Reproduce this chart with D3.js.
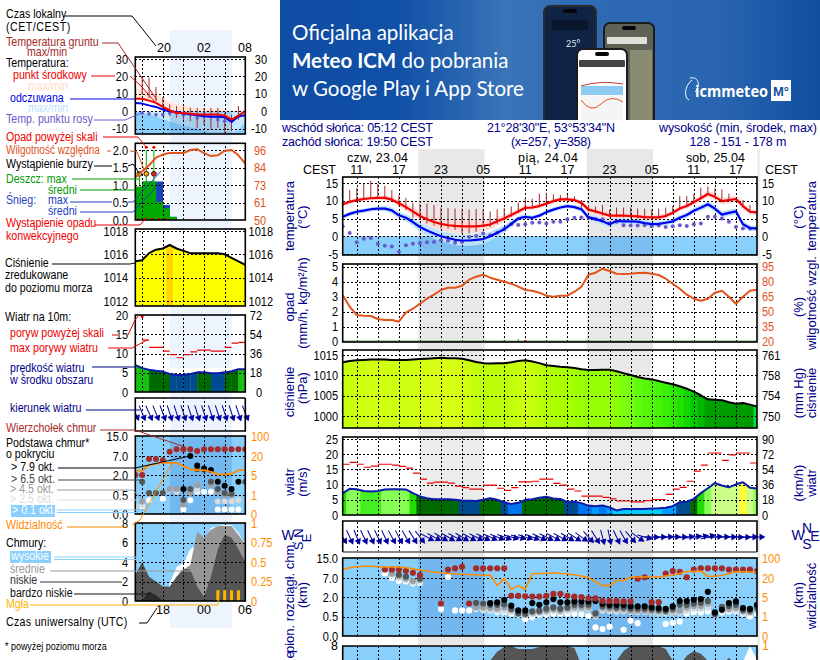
<!DOCTYPE html>
<html>
<head>
<meta charset="utf-8">
<title>Meteogram</title>
<script src="https://cdn.jsdelivr.net/npm/d3@7"></script>
<style>
html, body { margin: 0; padding: 0; background: #fff; }
svg { display: block; }
text { font-family: "Liberation Sans", Arial, sans-serif; font-size: 12px; }
</style>
</head>
<body>
<svg id="chart" width="820" height="660"></svg>
<script>
// --- dane: panel glowny, godziny 9..68 liczone od 23.04 00:00 CEST
const hours = d3.range(9, 69);
const hourLabels = ['11', '17', '23', '05', '11', '17', '23', '05', '11', '17'];
const hourTicks = [11, 17, 23, 29, 35, 41, 47, 53, 59, 65];
const gridHours = d3.range(11, 68, 3);
const nights = [[19.75, 29.2], [43.75, 53.2]];
const dayLabels = ['czw, 23.04', 'pią, 24.04', 'sob, 25.04'];

const tempCenter = [9, 9.7, 10.2, 10.5, 10.7, 10.8, 10.8, 10.3, 9.3, 8.2,
  7, 5.7, 4.8, 4, 3.5, 3.1, 2.9, 2.8, 2.8, 2.8,
  3, 3.3, 4.2, 5, 6, 7, 8, 8.1, 8.5, 9.2,
  9.9, 10.4, 10.4, 10.2, 9.4, 7.5, 7, 6.4, 5.8, 5.8,
  5.8, 5.7, 5.6, 5.4, 5.3, 5.3, 5.7, 6.6, 7.8, 8.5,
  9.6, 10.7, 11.9, 11.1, 9.9, 10.2, 10.5, 8.5, 6.9, 6.7];
const tempFelt = [5.5, 6.3, 6.9, 7.2, 7.6, 7.8, 7.8, 7.3, 5.9, 5.2,
  4, 2.6, 1.6, 0.8, 0, -0.5, -1, -1.2, -1.2, -1,
  -0.8, 0, 1, 2, 3.5, 5, 5.5, 5.2, 5.8, 6.8,
  7.5, 8.1, 8.5, 8.2, 7.6, 5.3, 4.9, 4.2, 3.4, 4.3,
  4.2, 4.2, 4.1, 3.7, 3.4, 3.5, 3.8, 4.2, 5.2, 6,
  7.2, 8, 9, 7.8, 6.1, 6.6, 7, 3.4, 2.3, 2.2];
const tempSpread = [0.6, 0.6, 0.6, 0.6, 0.6, 0.6, 0.7, 0.8, 0.9, 1,
  1.1, 1.2, 1.3, 1.4, 1.4, 1.5, 1.5, 1.5, 1.5, 1.5,
  1.4, 1.3, 1.2, 1, 0.9, 0.8, 0.7, 0.6, 0.6, 0.6,
  0.6, 0.6, 0.6, 0.6, 0.7, 0.8, 0.9, 0.9, 0.9, 0.9,
  0.8, 0.8, 0.8, 0.8, 0.8, 0.8, 0.7, 0.7, 0.7, 0.7,
  0.8, 0.8, 0.9, 0.9, 0.9, 0.9, 0.9, 0.9, 0.8, 0.7];
const groundMax = [null, 13, 13.6, 14.8, 15.6, 14.8, 14.2, 13, 11.6, 10.8,
  9.4, 9.1, 9.2, 8.8, 8.1, 7.9, 7.8, 7.8, 7.5, 7.7,
  7.7, 7, 7.6, 7.9, 8.4, 9.5, 10.8, 10.6, 12, 12.2,
  11.8, 11.6, 11.6, 11.3, 10.2, 8.8, 8.3, 8.8, 7.4, 8.1,
  8.1, 8.1, 7.8, 7.8, 7.5, 7.8, 8.1, 8.5, 11.3, 11.3,
  11.9, 13.7, 14, 13.5, 13.2, 12, 10.7, 10.2, 8.8, null];
const groundMin = [null, 9.7, 10.2, 10.5, 10.7, 10.8, 10.6, 10, 8.6, 7.4,
  5.2, 4.7, 3.6, 3, 2.2, 2.2, 1.8, 0.8, 0.8, 1.2,
  2.6, 2.6, 3.4, 4.5, 5.5, 6.6, 7.8, 7.8, 8.3, 9,
  9.7, 10.2, 10.2, 10, 8, 7, 6.5, 5.8, 5.4, 5.4,
  5.3, 5.2, 5, 4.8, 4.8, 5, 5.4, 6.4, 7.6, 8.3,
  9.4, 10.5, 11.7, 10.9, 9.7, 10, 10.3, 8.2, 6.7, null];
const dewPoint = [2.8, 0.9, -1.7, -0.7, -0.5, -2.1, -2.7, -2.9, -4.4, -2.5,
  -2.1, -2, -1.7, -1.6, -1.1, -1.3, -1.8, -1.6, -0.2, 0.1,
  0.8, 0.3, 1, 2, 3.4, 3.2, 3.4, 3.8, 3.9, 3.6,
  4.1, 4.1, 4.8, 5.2, 5.3, 5.2, 4.8, 4.8, 3.6, 4.1,
  3.1, 3, 3, 3.1, 2.8, 3, 2.6, 2.8, 3.1, 2.9,
  3.4, 3.6, 5.5, 5.5, 5, 4.1, 2.6, 2.2, 2.2, 2.2];

const humidity = [66.7, 55, 46.7, 46, 45.7, 42.7, 41.7, 41.7, 40, 49,
  53, 58, 63, 67, 71.7, 74, 74, 76, 82, 85,
  87, 84, 82, 80, 78, 75, 71.7, 71, 69, 66,
  65, 66, 66, 70, 75, 87, 89, 93, 90.7, 88,
  87.7, 88, 88.7, 89, 88, 86.7, 83, 78, 73, 67,
  63, 61, 63, 69, 71, 65, 58, 65, 71, 72];
const rainHours = [32, 34];
const rainValues = [0.12, 0.18];
const rainOverHours = [35];

const pressure = [1013.2, 1013.5, 1013.7, 1013.8, 1013.9, 1013.9, 1013.9, 1013.8, 1013.8, 1013.8,
  1013.9, 1014, 1014.1, 1014.2, 1014.3, 1014.2, 1014.2, 1014.1, 1013.7, 1013.3,
  1013, 1012.9, 1013, 1013, 1013.2, 1013.5, 1013.7, 1013.4, 1013, 1012.5,
  1012.3, 1012.1, 1012, 1011.8, 1011.5, 1011.3, 1011.3, 1011.4, 1011.4, 1011,
  1010.5, 1010.1, 1009.6, 1009.2, 1009, 1008.6, 1008.2, 1007.8, 1007.3, 1006.7,
  1006, 1005.1, 1004.1, 1004, 1003.9, 1003.4, 1003, 1003.2, 1002.8, 1002.3];

const windMean = [7.2, 8.6, 8.5, 7.9, 7.7, 7.9, 8.4, 8.5, 8.5, 8.4,
  7.2, 6.1, 5.5, 5.2, 5.2, 5.2, 5, 4.8, 4.7, 4.6,
  5, 5.5, 5, 4.2, 3.6, 4, 5, 5.2, 5.7, 6,
  5.4, 5.3, 4.2, 4.4, 3.9, 3.1, 2.9, 3.1, 2.5, 1.5,
  2, 2, 2, 2, 2.1, 2.2, 2.4, 2.9, 4.2, 4.4,
  5.3, 7.2, 8.8, 10.5, 9.7, 9.1, 10.1, 10.8, 9, 8.7];
const windGust = [16.7, 17.3, 16.7, 15.7, 16.1, 16.7, 16.7, 16.4, 16, 15.4,
  13.8, 11.8, 10.5, 10.8, 10.8, 10.5, 9.5, 9, 8.5, 8.5,
  9.8, 9.8, 8.8, 8.1, 9, 10.9, 10.9, 11.1, 11.8, 11.8,
  10.4, 9.8, 8.5, 7.9, 6.2, 6.2, 6.2, 5.8, 5.3, 4.6,
  4.6, 4.3, 4.3, 4.7, 5.1, 5.1, 6.8, 8.5, 9.1, 11.1,
  14.4, 16.4, 20.4, 20.4, 18, 19.8, 20.4, 20.4, 17.1, null];
const windDir = [330, 335, 338, 335, 335, 335, 335, 332, 332, 330,
  328, 322, 298, 298, 300, 300, 298, 300, 298, 296,
  296, 294, 292, 290, 285, 285, 288, 292, 296, 296,
  298, 298, 300, 302, 305, 318, 328, 345, 348, 335,
  330, 318, 305, 285, 272, 270, 268, 268, 270, 265,
  262, 258, 255, 265, 268, 270, 272, 272, 270, 270];

const cloudTop = [null, null, null, null, null, null, 10.4, 10.4, 10.4, 9.9,
  9.1, 8.2, null, null, 1.5, 10.4, 10.9, 11.5, 1.5, 10.9,
  10.9, 10.9, 10.9, 10.9, 2.3, 2.3, 2.2, 2.1, 2.1, 2.3,
  2.8, 2.8, 2.3, 2.1, 2, 1.9, 1.9, 1.7, 1.7, 1.7,
  1.66, 1.66, 6.8, 7.3, 1.6, 1.6, 8.8, 9.8, 9.5, 7.3,
  10.4, 10.9, 10.9, 10.9, 10.9, 10.4, 10.4, 10.4, 10.4, 9.8];
const base79 = [null, null, null, null, null, null, null, null, null, null,
  null, null, null, null, null, null, null, null, null, null,
  null, 1.53, 1.59, 1.79, 1.33, 0.97, 0.97, 1.53, 1.4, 1.59,
  1.84, 1.59, 1.59, 1.66, 1.66, 1.66, 1.69, 1.48, 1.4, 1.4,
  1.4, 1.28, 1.28, 1.28, 1.22, 1.15, 1.09, 1.28, 1.69, 1.69,
  1.79, 1.84, 3.36, 0.81, 1.02, 1.53, 1.66, 1.15, 1.09, 1.4];
const base65 = [null, null, null, null, null, null, null, null, 8.3, 7.6,
  null, 6.9, null, null, null, null, null, null, null, 1.55,
  1.5, 1.4, 1.4, 1.45, 1.1, 0.75, 0.72, 0.9, 0.95, 1.1,
  1.2, 1.1, 1.2, 1.4, 1.4, 1.4, 0.75, 1.3, 1.25, 1.2,
  1.2, 1.1, 1.1, 1.1, 1.05, 1, 0.95, 1.1, 1.4, 1.4,
  1.5, 1.55, 1.7, 0.7, 1.25, 1.3, 1.4, 1, 0.95, 1.2];
const base45 = [null, null, null, null, null, null, null, 8.8, 7.8, 6.9,
  6.2, 6.5, null, null, null, null, null, null, null, 1.2,
  1.2, 1.15, 1.1, 1.2, 1, 0.7, 0.65, 0.8, 0.85, 0.95,
  1.05, 0.95, 1.1, 1.2, 1.2, 1.2, 0.6, 1.15, 1.1, 1.05,
  1.05, 0.95, 0.95, 0.95, 0.9, 0.9, 0.85, 0.95, 0.95, 1.2,
  1.3, 1.3, 1.5, 0.65, 1.1, 1.1, 1.15, 0.9, 0.85, 1.05];
const base25 = [null, null, null, null, null, null, null, 8.2, 7, 6.5,
  5.9, 6, null, null, null, null, null, null, null, 1.1,
  1.05, 1, 0.95, 0.95, 0.85, 0.65, 0.6, 0.7, 0.75, 0.8,
  0.95, 0.85, 0.95, 1.05, 1.05, 1.05, 0.5, 0.95, 0.9, 0.9,
  0.9, 0.85, 0.85, 0.85, 0.8, 0.8, 0.75, 0.8, 0.8, 0.95,
  1.1, 1.1, 1.2, 0.65, 0.95, 1, 1, 0.8, 0.75, 0.9];
const base01 = [null, null, null, null, null, null, 8.8, 7, 6.2, 6.1,
  5.6, 5.7, null, null, 1.07, 7.4, 0.97, 0.97, 0.97, 1.07,
  1.02, 0.97, 0.84, 0.81, 0.71, 0.63, 0.43, 0.48, 0.63, 0.63,
  0.71, 0.71, 0.71, 0.71, 0.66, 0.55, 0.22, 0.18, 0.24, 0.89,
  0.16, 0.39, 0.33, null, null, null, 0.31, 0.34, 0.37, 0.71,
  0.81, 0.81, 0.89, 0.71, 0.81, 0.89, 0.89, 0.71, 0.5, 0.71];
const visibility = [54, 61, 65, 67, 67, 65, 64, 64, 64, 61,
  57, 52, 48, 43, 41, 38, 37, 35, 34, 32,
  31, 32, 14, 19.7, 11, 14, 11, 38, 38, 38,
  41, 38, 37, 32, 28, 21.5, 17, 14, 14, 18,
  18, 23, 24, 24, 24, 24, 28, 32, 38, 46,
  46, 48, 27, 27, 31, 37, 45, 45, 44, 44];
const midCloud = [3, 3, 3, 3, 3, 3, 3, 3, 3, 3,
  3, 3, 3, 3, 3, 3, 3, 3, 3, 3,
  4, 6.5, 7.4, 7.9, 8, 7.7, 7.7, 7.7, 7.9, 8,
  8, 8, 8, 7.8, 6, 5, 5, 5, 5, 6.5,
  7.5, 8, 8, 8, 8, 8, 7.7, 6.5, 6, 7,
  7.5, 7.2, 6.5, 6, 6, 6.8, 6, 5.5, 6.8, 6.2];
const highCloud = [null, null, null, null, null, null, null, null, null, null,
  null, null, null, null, null, null, null, null, null, null,
  null, null, null, null, null, null, null, null, null, null,
  null, null, null, null, null, null, null, null, null, null,
  null, null, null, null, null, null, null, null, null, null,
  null, null, null, null, null, null, null, 6.4, 8, 6.6];

// --- dane: panel legendy, godziny 16..32
const legHours = d3.range(16, 33);
const legGridHours = [17, 20, 23, 26, 29];
const legTemp = [7.2, 7.2, 6.1, 4.8, 2.5, 0.6, -1, -1, -1.4, -1.9, -1.9, -1.9, -1.9, -2.5, -4.8, -2.5, 0];
const legFelt = [4.8, 4.4, 3.4, 2.5, 1, 0, -0.4, -1.3, -1.7, -2.3, -2.9, -3.2, -3.2, -3.4, -6.1, -2.9, -2.3];
const legTempMax = [13.3, 12, 11, 9.5, 8, 5, 4, 3.5, 2.5, 2, 1.5, 1.5, 1.5, 1.2, 0.5, 0, 1];
const legFeltMin = [0, -1, -2, -3, -4.5, -6, -7, -8.5, -9, -10, -11, -12, -12, -12, -12, -11, -6];
const legGroundMax = [null, 19.4, 19.4, 13.9, 8, 4, 3, 2.5, 2, 1.9, 1.9, 1.9, 1.9, -1, -2, 3, null];
const legGroundMin = [null, 9.5, 7.6, 5.7, 3, -2.8, -3.8, -4.8, -5.7, -9.5, -7.6, -10.5, -9.5, -12.4, -11.4, -4.8, null];
const legDew = [null, -1, -1.5, -2, -2, -1, -1, -2, -2, -3.8, -2.9, -2.9, -4.8, -5.7, null, -2.9, null];
const legHumidity = [78, 82, 86, 91, 93, 94, 94, 94, 96, 96.5, 94, 92, 92.5, 95.5, 96, 92.5, 87];
const legRain = [0.95, 1.1, 1.1, 0.52, 0.33, 0.09, 0, 0, 0, 0, 0, 0, 0, 0, 0, 0];
const legSnow = [0.95, 1.1, 1.1, 1.1, 0.43, 0.09, 0, 0, 0, 0, 0, 0, 0, 0, 0, 0];
const legRainMaxHours = [16.6, 17.6, 18.7];
const legRainMaxTop = [1.3, 2.0, 2.0];
const legStormColors = ['#ffee00', '#ffaa00', '#ee2200'];
const legPressure = [1015.4, 1015.5, 1016.1, 1016.4, 1016.5, 1016.8, 1016.5, 1016.3, 1016.1, 1016.1, 1016.1, 1016.1, 1016.1, 1016, 1015.7, 1015.4, 1015.1];
const legWind = [7, 6.2, 5.8, 5.5, 5.3, 4.7, 4.4, 4.4, 4.7, 5.1, 5.1, 4.9, 4.9, 5.1, 5.4, 5.9, 5.9];
const legGust = [null, 13.5, 11.6, 11.6, 10.6, 9.7, 8.9, 9.7, 10.4, 10.9, 10.9, 10.6, 10.6, 11.6, 12.7, 12.9, null];
const legDir = [335, 338, 336, 338, 340, 342, 342, 342, 342, 342, 342, 342, 342, 342, 342, 342, 338];
const legTop = [2, 2, 6.2, 6.2, 5.9, 8.7, 9.7, 9.7, 9.7, 9, 9.7, 9.7, 9.7, 9.7, 9.7, 9.7, 9.7];
const leg79 = [null, null, null, null, null, null, null, 0.95, 7, 4.5, 3.7, 3.3, 1.5, 1.2, 0.95, 1.5, null];
const leg65 = [null, 1.5, 0.65, 0.65, 0.65, null, null, 0.37, 0.95, 3.5, 3.4, 1.5, 0.95, 0.65, 0.6, null, 1.5];
const leg45 = [null, 0.33, null, null, null, 0.95, 0.95, 0.25, 0.65, 1.25, null, 1.25, 0.75, 0.5, 0.5, null, null];
const leg25 = [0.2, 0.24, null, null, null, 0.9, 0.75, null, null, 0.87, null, null, 0.33, 0.33, 0.33, 0.36, null];
const leg01 = [null, 0.2, 0.36, null, 0.4, null, null, 0.12, 0.36, 0.75, 0.75, 0.75, 0.12, 0.12, 0.12, 0.12, null];
const legVisibility = [8.4, 8.4, 12.9, 13.7, 14.5, 14.5, 14.5, 12, 9.5, 8.8, 8.8, 7.5, 5.5, 5.5, 6, 8.8, 8.8];
const legHigh = [0, 0, 0, 0, 0, 1.8, 3.5, 3.9, 5.3, 5.8, 5.8, 7.5, 7.7, 7.8, 7.8, 7, 5.8];
const legMid = [0, 0, 0, 0, 0, 0, 0, 3.2, 3.7, 7.1, 6.5, 7.3, 7.7, 7.7, 7.7, 6.8, 5.8];
const legLow = [2.7, 4, 2.5, 2, 1.5, 1.5, 2.5, 3.3, 3.2, 1.5, 0.4, 2.5, 5.3, 6.8, 6.5, 5.3, 4];
const legVeryLow = [0, 0.1, 1, 0.6, 0, 0, 0, 0, 0, 0, 0, 0, 0, 0, 0, 0, 0];
const legFogHours = [28, 29, 30, 31];
const legFogLevel = [1.1, 1.1, 1.1, 1.1];

const SKY = '#88d0fb';
const NAVY = '#00008b';
const ORANGE_RH = '#e2541c';
const ORANGE_VIS = '#ff8c00';

const svg = d3.select('#chart');
let clipCounter = 0;

// Crear un panel con recorte
function makePanel(x0, x1, top, bottom) {
  const id = 'clip' + clipCounter++;
  svg.append('clipPath').attr('id', id).append('rect')
    .attr('x', x0).attr('y', top).attr('width', x1 - x0).attr('height', bottom - top);
  const g = svg.append('g').attr('clip-path', `url(#${id})`);
  return { g, x0, x1, top, bottom };
}

function fillBand(p, x0, x1, top, bottom, color, opacity) {
  p.g.append('rect').attr('x', x0).attr('y', top).attr('width', x1 - x0).attr('height', bottom - top)
    .attr('fill', color).attr('opacity', opacity === undefined ? 1 : opacity);
}

function drawFrame(p) {
  svg.append('rect').attr('x', p.x0).attr('y', p.top).attr('width', p.x1 - p.x0).attr('height', p.bottom - p.top)
    .attr('fill', 'none').attr('stroke', '#000').attr('stroke-width', 1.6);
}

// Rejilla punteada con los ejes de d3
function drawGrid(p, x, xVals, y, yVals) {
  const dash = (g) => {
    g.select('.domain').remove();
    g.selectAll('text').remove();
    g.selectAll('line').attr('stroke', '#000').attr('stroke-dasharray', '2,2').attr('shape-rendering', 'crispEdges');
  };
  p.g.append('g').attr('transform', `translate(0,${p.bottom})`)
    .call(d3.axisBottom(x).tickValues(xVals).tickSize(p.top - p.bottom).tickFormat('')).call(dash);
  if (y) {
    p.g.append('g').attr('transform', `translate(${p.x0},0)`)
      .call(d3.axisRight(y).tickValues(yVals).tickSize(p.x1 - p.x0).tickFormat('')).call(dash);
  }
}

// Estrechar el texto para imitar la fuente de mapa de bits
function narrow(sel, factor) {
  sel.each(function () {
    const w = this.getComputedTextLength();
    d3.select(this).attr('textLength', w * factor).attr('lengthAdjust', 'spacingAndGlyphs');
  });
}

// Etiquetas de eje: izquierda o derecha
function axisLabels(side, xPos, y, vals, labels, color, anchor) {
  const ax = (side === 'left' ? d3.axisLeft(y) : d3.axisRight(y))
    .tickValues(vals).tickSize(0).tickPadding(0).tickFormat((d, i) => labels[i]);
  const g = svg.append('g').attr('transform', `translate(${xPos},0)`).call(ax);
  g.select('.domain').remove();
  const t = g.selectAll('text')
    .attr('fill', color || '#000')
    .attr('text-anchor', anchor || (side === 'left' ? 'end' : 'start'))
    .style('font-family', '"Liberation Sans", Arial, sans-serif')
    .style('font-size', '12.5px');
  narrow(t, 0.88);
}

function txt(x, y, s, color, opts) {
  const o = opts || {};
  const t = svg.append('text').attr('x', x).attr('y', y).text(s)
    .attr('fill', color || '#000')
    .attr('text-anchor', o.anchor || 'start')
    .style('font-size', (o.size || 12.5) + 'px')
    .style('font-weight', o.weight || 'normal')
    .style('letter-spacing', o.spacing || null);
  if (x < 135) narrow(t, o.factor || 0.85);
  return t;
}

function rotText(x, y, s, color) {
  svg.append('text').attr('transform', `translate(${x},${y}) rotate(-90)`).text(s)
    .attr('fill', color || NAVY).attr('text-anchor', 'middle').style('font-size', '13px');
}

function leader(points, color, width) {
  svg.append('path').attr('d', d3.line()(points)).attr('fill', 'none')
    .attr('stroke', color).attr('stroke-width', width || 1);
}

const withHours = (hrs, vals) => hrs.map((h, i) => [h, vals[i]]);

function lineSeries(p, x, y, hrs, vals, color, width, curve) {
  const line = d3.line().defined((d) => d[1] !== null).x((d) => x(d[0])).y((d) => y(d[1]));
  if (curve) line.curve(curve);
  p.g.append('path').datum(withHours(hrs, vals)).attr('d', line)
    .attr('fill', 'none').attr('stroke', color).attr('stroke-width', width)
    .attr('stroke-linejoin', 'round');
}

function bandSeries(p, x, y, hrs, lower, upper, color) {
  const area = d3.area().x((d) => x(d)).y0((d, i) => y(lower[i])).y1((d, i) => y(upper[i]));
  p.g.append('path').datum(hrs).attr('d', area).attr('fill', color);
}

function dots(p, x, y, hrs, vals, color, r, stroke) {
  p.g.append('g').selectAll('circle')
    .data(withHours(hrs, vals).filter((d) => d[1] !== null))
    .join('circle').attr('cx', (d) => x(d[0])).attr('cy', (d) => y(d[1])).attr('r', r)
    .attr('fill', color).attr('stroke', stroke || 'none');
}

// Columnas coloreadas bajo una curva
function colorColumns(p, x, y, hrs, vals, color, baseline) {
  const step = x(hrs[1]) - x(hrs[0]);
  p.g.append('g').selectAll('rect').data(withHours(hrs, vals)).join('rect')
    .attr('x', (d) => x(d[0]) - step / 2).attr('width', step + 0.6)
    .attr('y', p.top).attr('height', baseline - p.top)
    .attr('fill', (d) => color(d[1]));
}

function arrows(p, x, hrs, dirs, cy, len) {
  const g = p.g.append('g');
  const tri = d3.symbol(d3.symbolTriangle, 20)();
  hrs.forEach((h, i) => {
    const a = g.append('g').attr('transform', `translate(${x(h)},${cy}) rotate(${dirs[i]})`);
    a.append('line').attr('y1', -len / 2).attr('y2', len / 2 - 3)
      .attr('stroke', '#0000a0').attr('stroke-width', 1);
    a.append('path').attr('d', tri).attr('transform', `translate(0,${len / 2 - 3}) rotate(180)`).attr('fill', '#0000a0');
  });
}

// --- banner
const defs = svg.append('defs');
const grad = defs.append('linearGradient').attr('id', 'bannerGrad');
[['0%', '#0e4da3'], ['22%', '#1050a6'], ['42%', '#3a74b8'], ['56%', '#2f6bb3'], ['80%', '#2a66b0'], ['100%', '#114e9f']]
  .forEach((s) => grad.append('stop').attr('offset', s[0]).attr('stop-color', s[1]));
const banner = makePanel(280, 820, 0, 120).g;
banner.append('rect').attr('x', 280).attr('y', 0).attr('width', 540).attr('height', 120).attr('fill', 'url(#bannerGrad)');

const bannerFont = 'Lato, "Open Sans", sans-serif';
banner.append('text').attr('x', 292).attr('y', 40).text('Oficjalna aplikacja').attr('fill', '#fff')
  .style('font-family', bannerFont).style('font-size', '20.5px');
const t2 = banner.append('text').attr('x', 292).attr('y', 68).attr('fill', '#fff')
  .style('font-family', bannerFont).style('font-size', '20.5px');
t2.append('tspan').text('Meteo ICM').style('font-family', bannerFont).style('font-weight', 'bold');
t2.append('tspan').text(' do pobrania').style('font-family', bannerFont);
banner.append('text').attr('x', 292).attr('y', 96).text('w Google Play i App Store').attr('fill', '#fff')
  .style('font-family', bannerFont).style('font-size', '20.5px');

function phone(x, y, w, h, frame, screen) {
  banner.append('rect').attr('x', x).attr('y', y).attr('width', w).attr('height', h + 8).attr('rx', 7).attr('fill', frame);
  banner.append('rect').attr('x', x + 2).attr('y', y + 2).attr('width', w - 4).attr('height', h + 6).attr('rx', 5).attr('fill', screen);
  banner.append('rect').attr('x', x + w / 2 - 7).attr('y', y + 4).attr('width', 14).attr('height', 4).attr('rx', 2).attr('fill', '#05070d');
}
phone(543, 5, 54, 120, '#2b2b2e', '#0f2444');
banner.append('rect').attr('x', 552).attr('y', 20).attr('width', 36).attr('height', 10).attr('rx', 2).attr('fill', '#09162c');
banner.append('text').attr('x', 566).attr('y', 47).text('25°').attr('fill', '#dfe8f3').style('font-family', bannerFont).style('font-size', '9px');
phone(603, 22, 52, 105, '#1c1c1c', '#5f6356');
banner.append('rect').attr('x', 607).attr('y', 37).attr('width', 40).attr('height', 7).attr('rx', 1).attr('fill', '#dfe0da');
banner.append('rect').attr('x', 630).attr('y', 50).attr('width', 22).attr('height', 70).attr('fill', '#8b8a73');
phone(576, 48, 52, 80, '#1c1c1c', '#ffffff');
banner.append('rect').attr('x', 579).attr('y', 60).attr('width', 46).attr('height', 7).attr('rx', 1).attr('fill', '#444');
banner.append('rect').attr('x', 581).attr('y', 86).attr('width', 42).attr('height', 9).attr('fill', '#8ecbf0');
banner.append('rect').attr('x', 581).attr('y', 95).attr('width', 42).attr('height', 25).attr('fill', '#f5f5f5');
banner.append('path').attr('d', 'M581,100 q10,14 20,4 t22,-2').attr('fill', 'none').attr('stroke', '#e2541c');
banner.append('path').attr('d', 'M581,86 q20,-6 42,-2').attr('fill', 'none').attr('stroke', '#c33');

banner.append('text').attr('x', 695).attr('y', 97).text('icmmeteo').attr('fill', '#fff').attr('textLength', 73)
  .attr('lengthAdjust', 'spacingAndGlyphs')
  .style('font-family', '"Open Sans", sans-serif').style('font-size', '16px').style('font-weight', 'bold');
banner.append('path').attr('d', 'M692,80 C684,86 684,98 689,100 M690,78 C700,76 700,88 695,92').attr('fill', 'none').attr('stroke', '#fff');
banner.append('rect').attr('x', 771).attr('y', 80).attr('width', 20).attr('height', 21).attr('fill', '#fff');
banner.append('text').attr('x', 781).attr('y', 96).attr('text-anchor', 'middle').text('M°').attr('fill', '#114e9f')
  .style('font-size', '13px').style('font-weight', 'bold');

// --- fondo: tiras nocturnas
const xMain = d3.scaleLinear().domain([9, 68]).range([342.7, 757]);
nights.forEach((n) => {
  svg.append('rect').attr('x', xMain(n[0])).attr('y', 149).attr('width', xMain(n[1]) - xMain(n[0])).attr('height', 511).attr('fill', '#e8e8e8');
});
svg.append('rect').attr('x', 757).attr('y', 149).attr('width', 3).attr('height', 511).attr('fill', '#eeeeee');

const xLeg = d3.scaleLinear().domain([16, 32]).range([135.3, 245.3]);
svg.append('rect').attr('x', 170).attr('y', 30).attr('width', 61.7).attr('height', 598).attr('fill', '#eef4fe');

// --- cabecera
txt(282, 132, 'wschód słońca: 05:12 CEST', NAVY, { size: 12.5 }).attr('textLength', 151);
txt(282, 146, 'zachód słońca: 19:50 CEST', NAVY, { size: 12.5 }).attr('textLength', 151);
txt(551, 132, '21°28\'30"E, 53°53\'34"N', NAVY, { anchor: 'middle' }).attr('textLength', 128);
txt(551, 146, '(x=257, y=358)', NAVY, { anchor: 'middle' }).attr('textLength', 80);
txt(738, 132, 'wysokość (min, środek, max)', NAVY, { anchor: 'middle' }).attr('textLength', 158);
txt(738, 146, '128 - 151 - 178 m', NAVY, { anchor: 'middle' }).attr('textLength', 97);

txt(347, 162, dayLabels[0], '#000').attr('textLength', 61);
txt(518, 162, dayLabels[1], '#000').attr('textLength', 60);
txt(686, 162, dayLabels[2], '#000').attr('textLength', 59);
txt(303, 174, 'CEST', '#000').attr('textLength', 33);
txt(765, 174, 'CEST', '#000').attr('textLength', 33);
hourTicks.forEach((h, i) => txt(xMain(h), 174, hourLabels[i], '#000', { anchor: 'middle' }));

// --- temperatura (panel principal)
const pT = makePanel(342.7, 757, 177, 255);
const yT = d3.scaleLinear().domain([-5, 15]).range([254, 183]);
fillBand(pT, 342.7, 757, yT(0), 255, SKY);
nights.forEach((n) => fillBand(pT, xMain(n[0]), xMain(n[1]), yT(0), 255, '#4a80c8', 0.22));
bandSeries(pT, xMain, yT, hours, tempCenter.map((v, i) => v - tempSpread[i]), tempCenter.map((v, i) => v + tempSpread[i]), '#ffd8d8');
bandSeries(pT, xMain, yT, hours, tempFelt.map((v, i) => v - tempSpread[i]), tempFelt.map((v, i) => v + tempSpread[i]), '#b8e2fb');
drawGrid(pT, xMain, gridHours, yT, [15, 10, 5, 0, -5]);
pT.g.append('g').selectAll('line').data(hours.filter((h, i) => groundMax[i] !== null)).join('line')
  .attr('x1', (h) => xMain(h)).attr('x2', (h) => xMain(h))
  .attr('y1', (h) => yT(groundMax[h - 9])).attr('y2', (h) => yT(groundMin[h - 9]))
  .attr('stroke', '#a52a2a').attr('stroke-width', 1);
dots(pT, xMain, yT, hours, dewPoint, '#6a5acd', 2);
lineSeries(pT, xMain, yT, hours, tempFelt, '#0000ee', 2.2);
lineSeries(pT, xMain, yT, hours, tempCenter, '#ee0000', 2.2);
drawFrame(pT);
axisLabels('left', 338, yT, [15, 10, 5, 0, -5], ['15', '10', '5', '0', '-5']);
axisLabels('right', 762, yT, [15, 10, 5, 0, -5], ['15', '10', '5', '0', '-5']);
rotText(294, 216, 'temperatura');
rotText(307, 217, '(°C)');
rotText(816, 216, 'temperatura');
rotText(803, 217, '(°C)');

// --- opad / wilgotnosc
const pR = makePanel(342.7, 757, 264, 342);
const yR = d3.scaleLinear().domain([0, 5]).range([341.7, 266.7]);
const yH = d3.scaleLinear().domain([20, 95]).range([341.7, 266.7]);
drawGrid(pR, xMain, gridHours, yR, [5, 4, 3, 2, 1, 0]);
pR.g.append('line').attr('x1', 342.7).attr('x2', 757).attr('y1', yR(0) - 0.5).attr('y2', yR(0) - 0.5).attr('stroke', '#2a8a2a').attr('stroke-width', 1);
pR.g.append('g').selectAll('line').data(rainHours).join('line')
  .attr('x1', (h) => xMain(h)).attr('x2', (h) => xMain(h))
  .attr('y1', yR(0)).attr('y2', (h, i) => yR(rainValues[i])).attr('stroke', '#00aa00');
dots(pR, xMain, yR, rainOverHours, [0], '#ee0000', 1.6);
lineSeries(pR, xMain, yH, hours, humidity, ORANGE_RH, 2);
drawFrame(pR);
axisLabels('left', 338, yR, [5, 4, 3, 2, 1, 0], ['5', '4', '3', '2', '1', '0']);
axisLabels('right', 762, yH, [95, 80, 65, 50, 35, 20], ['95', '80', '65', '50', '35', '20'], ORANGE_RH);
rotText(294, 307, 'opad');
rotText(307, 303, '(mm/h, kg/m²/h)');
rotText(816, 303, 'wilgotność wzgl.');
rotText(803, 307, '(%)');

// --- cisnienie
const pP = makePanel(342.7, 757, 350, 428);
const yP = d3.scaleLinear().domain([1000, 1015]).range([416, 355]);
const pressureColor = d3.scaleLinear()
  .domain([1002.3, 1002.8, 1004, 1006, 1008, 1010, 1012, 1014.3])
  .range(['#00dd44', '#009a00', '#00a000', '#00cc00', '#33ee00', '#70ff10', '#a8ff00', '#d8ff14']);
colorColumns(pP, xMain, yP, hours, pressure, pressureColor, 428);
pP.g.append('path').datum(hours).attr('d', d3.area().x((d) => xMain(d)).y0(350).y1((d, i) => yP(pressure[i])))
  .attr('fill', '#fff');
nights.forEach((n) => pP.g.append('path').datum(hours.filter((h) => h >= n[0] && h <= n[1]))
  .attr('d', d3.area().x((d) => xMain(d)).y0(350).y1((d) => yP(pressure[d - 9])))
  .attr('fill', '#e8e8e8'));
drawGrid(pP, xMain, gridHours, yP, [1015, 1010, 1005, 1000]);
lineSeries(pP, xMain, yP, hours, pressure, '#000', 2);
drawFrame(pP);
axisLabels('left', 338, yP, [1015, 1010, 1005, 1000], ['1015', '1010', '1005', '1000']);
axisLabels('right', 762, yP, [1015, 1010, 1005, 1000], ['761', '758', '754', '750']);
rotText(294, 392, 'ciśnienie');
rotText(307, 388, '(hPa)');
rotText(816, 393, 'ciśnienie');
rotText(803, 393, '(mm Hg)');

// --- wiatr
const pW = makePanel(342.7, 757, 437, 515);
const yW = d3.scaleLinear().domain([0, 25]).range([515, 439]);
const windColor = (v) => v < 2.3 ? '#00ccff' : v < 3 ? '#0099ff' : v < 4.1 ? '#0075ee' : v < 5 ? '#004a8f'
  : v < 6.8 ? '#006a00' : v < 7.5 ? '#22dd00' : v < 8.3 ? '#44f022' : v < 8.9 ? '#88ff55' : v < 10.6 ? '#ccff88' : '#ffff33';
pW.g.append('g').selectAll('rect').data(withHours(hours, windMean)).join('rect')
  .attr('x', (d) => xMain(d[0]) - 3.5).attr('width', 7.6)
  .attr('y', 437).attr('height', 78).attr('fill', (d) => windColor(d[1]));
pW.g.append('path').datum(hours).attr('d', d3.area().x((d) => xMain(d)).y0(437).y1((d, i) => yW(windMean[i]))).attr('fill', '#fff');
nights.forEach((n) => pW.g.append('path').datum(hours.filter((h) => h >= n[0] && h <= n[1]))
  .attr('d', d3.area().x((d) => xMain(d)).y0(437).y1((d) => yW(windMean[d - 9]))).attr('fill', '#ececec'));
drawGrid(pW, xMain, gridHours, yW, [25, 20, 15, 10, 5, 0]);
pW.g.append('g').selectAll('line').data(withHours(hours, windGust).filter((d) => d[1] !== null)).join('line')
  .attr('x1', (d) => xMain(d[0])).attr('x2', (d) => xMain(d[0] + 1))
  .attr('y1', (d) => yW(d[1])).attr('y2', (d) => yW(d[1])).attr('stroke', '#ee0000').attr('stroke-width', 1.2);
lineSeries(pW, xMain, yW, hours, windMean, '#0b1aa8', 2);
drawFrame(pW);
axisLabels('left', 338, yW, [25, 20, 15, 10, 5, 0], ['25', '20', '15', '10', '5', '0']);
axisLabels('right', 762, yW, [25, 20, 15, 10, 5, 0], ['90', '72', '54', '36', '18', '0']);
rotText(294, 482, 'wiatr');
rotText(307, 482, '(m/s)');
rotText(816, 483, 'wiatr');
rotText(803, 483, '(km/h)');

// --- kierunek wiatru
const pD = makePanel(342.7, 765, 521, 552);
drawGrid(pD, xMain, gridHours);
arrows(pD, xMain, hours, windDir, 537, 15);
svg.append('rect').attr('x', 342.7).attr('y', 551).attr('width', 414).attr('height', 2).attr('fill', '#888');
svg.append('path').attr('d', d3.line()([[342.7, 552], [342.7, 521], [757, 521], [757, 552]])).attr('fill', 'none').attr('stroke', '#000').attr('stroke-width', 1.6);
txt(798, 540, 'W', NAVY, { size: 14, anchor: 'middle' });
txt(807, 533, 'N', NAVY, { size: 14, anchor: 'middle' });
txt(807, 549, 'S', NAVY, { size: 14, anchor: 'middle' });
txt(815, 541, 'E', NAVY, { size: 14, anchor: 'middle' });
txt(288, 540, 'W', NAVY, { size: 14, anchor: 'middle' });
svg.append('text').attr('transform', 'translate(303,533) rotate(-90)').text('N').attr('fill', NAVY).attr('text-anchor', 'middle').style('font-size', '13px');
svg.append('text').attr('transform', 'translate(303,546) rotate(-90)').text('S').attr('fill', NAVY).attr('text-anchor', 'middle').style('font-size', '13px');
svg.append('text').attr('transform', 'translate(311,538) rotate(-90)').text('E').attr('fill', NAVY).attr('text-anchor', 'middle').style('font-size', '13px');

// --- podstawa chmur
const pB = makePanel(342.7, 757, 558, 636);
const yB = d3.scaleLinear().domain([0, 0.5, 2, 7, 15]).range([636, 616.5, 597, 578, 558]);
const yV = d3.scaleLinear().domain([0, 1, 5, 20, 100]).range([636, 616.5, 597, 578, 558]);
fillBand(pB, 342.7, 757, 558, 636, SKY);
nights.forEach((n) => fillBand(pB, xMain(n[0]), xMain(n[1]), 558, 636, '#3f7fd0', 0.3));
drawGrid(pB, xMain, gridHours, yB, [7, 2, 0.5]);
dots(pB, xMain, yB, hours, base01, '#ffffff', 3.1);
dots(pB, xMain, yB, hours, base25, '#d9d9d9', 3.1);
dots(pB, xMain, yB, hours, base45, '#a0a0a0', 3.1);
dots(pB, xMain, yB, hours, base65, '#555555', 3.1);
dots(pB, xMain, yB, hours, base79, '#000000', 3.1);
dots(pB, xMain, yB, hours, cloudTop, '#a52a2a', 3.1);
lineSeries(pB, xMain, yV, hours, visibility, '#ff8c00', 1.6);
drawFrame(pB);
axisLabels('left', 338, yB, [15, 7, 2, 0.5, 0], ['15.0', '7.0', '2.0', '0.5', '0.0']);
axisLabels('right', 762, yV, [100, 20, 5, 1, 0], ['100', '20', '5', '1', '0'], ORANGE_VIS);
rotText(294, 597, 'pion. rozciągł. chm.');
rotText(294, 655, 'e');
rotText(307, 595, '(km)');
rotText(816, 596, 'widzialność');
rotText(803, 595, '(km)');

// --- chmury
const pC = makePanel(342.7, 757, 646, 660);
const yC = d3.scaleLinear().domain([0, 8]).range([724, 646]);
fillBand(pC, 342.7, 757, 646, 660, SKY);
bandSeries(pC, xMain, yC, hours, hours.map(() => 0), midCloud, '#555555');
const highHours = hours.filter((h, i) => highCloud[i] !== null);
bandSeries(pC, xMain, yC, highHours, highHours.map(() => 0), highHours.map((h) => highCloud[h - 9]), '#ffffff');
drawGrid(pC, xMain, gridHours);
svg.append('path').attr('d', d3.line()([[342.7, 660], [342.7, 646], [757, 646], [757, 660]])).attr('fill', 'none').attr('stroke', '#000').attr('stroke-width', 1.6);
txt(338, 650, '8', '#000', { anchor: 'end' });
txt(762, 650, '1', ORANGE_VIS);

// ===== panel legendy =====
const X0 = 135.3, X1 = 245.3;
txt(164, 52, '20', '#000', { anchor: 'middle' });
txt(204, 52, '02', '#000', { anchor: 'middle' });
txt(245, 52, '08', '#000', { anchor: 'middle' });

const aT = makePanel(X0, X1, 57, 134);
const yAT = d3.scaleLinear().domain([-10, 30]).range([128.7, 59]);
bandSeries(aT, xLeg, yAT, legHours, legTemp, legTempMax, '#ffe6d8');
bandSeries(aT, xLeg, yAT, legHours, legHours.map(() => -14), legHours.map(() => 0), '#c4e8fd');
bandSeries(aT, xLeg, yAT, legHours, legHours.map(() => -14), legFeltMin, SKY);
fillBand(aT, 170, 231.7, yAT(0), 134, '#4a80c8', 0.25);
drawGrid(aT, xLeg, legGridHours, yAT, [30, 20, 10, 0, -10]);
aT.g.append('g').selectAll('line').data(legHours.filter((h, i) => legGroundMax[i] !== null)).join('line')
  .attr('x1', (h) => xLeg(h)).attr('x2', (h) => xLeg(h))
  .attr('y1', (h) => yAT(legGroundMax[h - 16])).attr('y2', (h) => yAT(legGroundMin[h - 16]))
  .attr('stroke', '#a52a2a');
dots(aT, xLeg, yAT, legHours, legDew, '#6a5acd', 1.8);
lineSeries(aT, xLeg, yAT, legHours, legFelt, '#0000ee', 2);
lineSeries(aT, xLeg, yAT, legHours, legTemp, '#ee0000', 2);
drawFrame(aT);
axisLabels('left', 128, yAT, [30, 20, 10, 0, -10], ['30', '20', '10', '0', '-10']);
axisLabels('right', 267, yAT, [30, 20, 10, 0, -10], ['30', '20', '10', '0', '-10'], '#000', 'end');

const aR = makePanel(X0, X1, 143.3, 220);
const yAR = d3.scaleLinear().domain([0, 2]).range([220, 150]);
const yAH = d3.scaleLinear().domain([50, 96]).range([220, 150]);
const rainBars = (vals, color) => aR.g.append('g').selectAll('rect').data(vals).join('rect')
  .attr('x', (d, i) => xLeg(legHours[i])).attr('width', xLeg(17) - xLeg(16) + 0.3)
  .attr('y', (d) => yAR(d)).attr('height', (d) => yAR(0) - yAR(d)).attr('fill', color);
rainBars(legSnow, '#1c3fc0');
rainBars(legRain, '#00aa00');
drawGrid(aR, xLeg, legGridHours, yAR, [2, 1.5, 1, 0.5]);
aR.g.append('g').selectAll('line').data(legRainMaxHours).join('line')
  .attr('x1', (h) => xLeg(h)).attr('x2', (h) => xLeg(h)).attr('y1', yAR(1))
  .attr('y2', (h, i) => yAR(legRainMaxTop[i])).attr('stroke', '#00aa00');
dots(aR, xLeg, yAR, legRainMaxHours.slice(1), [2.08, 2.08], '#ee0000', 1.5);
aR.g.append('g').selectAll('circle').data(legRainMaxHours).join('circle')
  .attr('cx', (h) => xLeg(h)).attr('cy', yAR(1.32)).attr('r', 2.4)
  .attr('fill', (h, i) => legStormColors[i]).attr('stroke', '#222');
aR.g.append('g').selectAll('circle').data(legHours.slice(0, 5)).join('circle')
  .attr('cx', (h) => xLeg(h) + 3).attr('cy', yAR(0.03)).attr('r', 1.2).attr('fill', '#ee0000');
lineSeries(aR, xLeg, yAH, legHours, legHumidity, ORANGE_RH, 2);
drawFrame(aR);
axisLabels('left', 128, yAR, [2, 1.5, 1, 0.5, 0], ['2.0', '1.5', '1.0', '0.5', '0.0']);
axisLabels('right', 254, yAR, [2, 1.5, 1, 0.5, 0], ['96', '84', '73', '61', '50'], ORANGE_RH);

const aP = makePanel(X0, X1, 229, 306);
const yAP = d3.scaleLinear().domain([1012, 1018]).range([301, 231]);
colorColumns(aP, xLeg, yAP, legHours, legPressure, (v) => v > 1016.6 ? '#ffd400' : '#ffff00', 306);
aP.g.append('path').datum(legHours).attr('d', d3.area().x((d) => xLeg(d)).y0(229).y1((d, i) => yAP(legPressure[i]))).attr('fill', '#fff');
drawGrid(aP, xLeg, legGridHours, yAP, [1018, 1016, 1014, 1012]);
lineSeries(aP, xLeg, yAP, legHours, legPressure, '#000', 2);
drawFrame(aP);
axisLabels('left', 128, yAP, [1018, 1016, 1014, 1012], ['1018', '1016', '1014', '1012']);
axisLabels('right', 273, yAP, [1018, 1016, 1014, 1012], ['1018', '1016', '1014', '1012'], '#000', 'end');

const aW = makePanel(X0, X1, 315, 392);
const yAW = d3.scaleLinear().domain([0, 20]).range([392, 315]);
const legWindColor = (v) => v > 5.8 ? '#18c010' : v >= 5 ? '#006a00' : '#004a8f';
aW.g.append('g').selectAll('rect').data(withHours(legHours, legWind)).join('rect')
  .attr('x', (d) => xLeg(d[0])).attr('width', xLeg(17) - xLeg(16) + 0.3)
  .attr('y', 315).attr('height', 77).attr('fill', (d) => legWindColor(d[1]));
aW.g.append('path').datum(legHours).attr('d', d3.area().x((d) => xLeg(d)).y0(315).y1((d, i) => yAW(legWind[i]))).attr('fill', '#fff');
fillBand(aW, 170, 231.7, 315, 368, '#eef4fe', 1);
drawGrid(aW, xLeg, legGridHours, yAW, [15, 10, 5]);
aW.g.append('g').selectAll('line').data(withHours(legHours, legGust).filter((d) => d[1] !== null)).join('line')
  .attr('x1', (d) => xLeg(d[0])).attr('x2', (d) => xLeg(d[0] + 1))
  .attr('y1', (d) => yAW(d[1])).attr('y2', (d) => yAW(d[1])).attr('stroke', '#ee0000').attr('stroke-width', 1.2);
lineSeries(aW, xLeg, yAW, legHours, legWind, '#0b1aa8', 2);
dots(aW, xLeg, yAW, [17], [19.6], '#ee0000', 1.5);
drawFrame(aW);
axisLabels('left', 128, yAW, [20, 15, 10, 5, 0], ['20', '15', '10', '5', '0']);
axisLabels('right', 262, yAW, [20, 15, 10, 5, 0], ['72', '54', '36', '18', '0'], '#000', 'end');

const aD = makePanel(X0, 252, 398, 431);
drawGrid(aD, xLeg, legGridHours);
arrows(aD, xLeg, legHours, legDir, 413, 16);
svg.append('path').attr('d', d3.line()([[X1, 398], [X0, 398], [X0, 431], [X1, 431], [X1, 398]])).attr('fill', 'none').attr('stroke', '#000').attr('stroke-width', 1.6);

const aB = makePanel(X0, X1, 436, 514);
const yAB = d3.scaleLinear().domain([0, 0.5, 2, 7, 15]).range([514, 495, 475, 456, 436]);
const yAV = d3.scaleLinear().domain([0, 1, 5, 20, 100]).range([514, 495, 475, 456, 436]);
fillBand(aB, X0, X1, 436, 514, SKY);
fillBand(aB, 170, 231.7, 436, 514, '#3f7fd0', 0.3);
drawGrid(aB, xLeg, legGridHours, yAB, [7, 2, 0.5]);
dots(aB, xLeg, yAB, legHours, leg01, '#ffffff', 3);
dots(aB, xLeg, yAB, legHours, leg25, '#d9d9d9', 3);
dots(aB, xLeg, yAB, legHours, leg45, '#a0a0a0', 3);
dots(aB, xLeg, yAB, legHours, leg65, '#555555', 3);
dots(aB, xLeg, yAB, legHours, leg79, '#000000', 3);
dots(aB, xLeg, yAB, legHours, legTop, '#a52a2a', 3);
lineSeries(aB, xLeg, yAV, legHours, legVisibility, '#ff8c00', 1.8);
drawFrame(aB);
axisLabels('left', 128, yAB, [15, 7, 2, 0.5, 0], ['15.0', '7.0', '2.0', '0.5', '0.0']);
axisLabels('right', 251, yAV, [100, 20, 5, 1, 0], ['100', '20', '5', '1', '0'], ORANGE_VIS);

const aC = makePanel(X0, X1, 523, 601);
const yAC = d3.scaleLinear().domain([0, 8]).range([601, 523]);
const zeros = legHours.map(() => 0);
fillBand(aC, X0, X1, 523, 601, SKY);
bandSeries(aC, xLeg, yAC, legHours, zeros, legHigh, '#ffffff');
bandSeries(aC, xLeg, yAC, legHours, zeros, legMid, '#969696');
bandSeries(aC, xLeg, yAC, legHours, zeros, legLow, '#555555');
bandSeries(aC, xLeg, yAC, legHours, zeros, legVeryLow, '#2a2a2a');
drawGrid(aC, xLeg, legGridHours, yAC, [6, 4, 2]);
aC.g.append('g').selectAll('rect').data(legFogHours).join('rect')
  .attr('x', (h) => xLeg(h) - 1.5).attr('width', 3)
  .attr('y', (h, i) => yAC(legFogLevel[i])).attr('height', (h, i) => yAC(0) - yAC(legFogLevel[i]))
  .attr('fill', '#ffb400');
drawFrame(aC);
axisLabels('left', 128, yAC, [8, 6, 4, 2, 0], ['8', '6', '4', '2', '0']);
axisLabels('right', 251, yAC, [8, 6, 4, 2, 0], ['1', '0.75', '0.5', '0.25', '0'], ORANGE_VIS);
txt(163, 614, '18', '#000', { anchor: 'middle' });
txt(204, 614, '00', '#000', { anchor: 'middle' });
txt(245, 614, '06', '#000', { anchor: 'middle' });

// --- opisy po lewej stronie
const DARKRED = '#a52a2a', RED = '#ee0000', GREEN = '#009900', BLUE = '#1c3fc0';
txt(6, 18, 'Czas lokalny');
txt(6, 31, '(CET/CEST)', '#000', { spacing: '0.6px' });
leader([[65, 16], [132, 16], [156, 46]], '#000');
txt(6, 46, 'Temperatura gruntu', DARKRED);
txt(27, 56, 'max/min', DARKRED);
leader([[102, 43], [118, 43], [157, 100]], DARKRED);
txt(6, 67, 'Temperatura:');
txt(13, 79, 'punkt środkowy', RED);
leader([[91, 76], [115, 76]], RED);
leader([[130, 76], [140, 85], [155, 102]], RED);
txt(28, 90, 'max/min', '#ffdcca');
txt(10, 102, 'odczuwana', '#0000ee');
leader([[70, 99], [135, 99]], '#0000ee');
txt(28, 112, 'max/min', '#b8e2fb');
txt(6, 123, 'Temp. punktu rosy', '#6a5acd');
leader([[94, 120], [125, 120], [141, 113]], '#6a5acd');
txt(6, 141, 'Opad powyżej skali', RED);
leader([[103, 137], [138, 137], [146, 147]], RED);
txt(6, 154, 'Wilgotność względna', ORANGE_RH, { factor: 0.8 });
leader([[107, 151], [111, 151]], ORANGE_RH);
leader([[130, 151], [137, 152], [145, 172]], ORANGE_RH);
txt(6, 168, 'Wystąpienie burzy');
leader([[94, 166], [112, 166]], '#000');
leader([[128, 166], [133, 164], [139, 173]], '#000');
txt(6, 183, 'Deszcz: max', GREEN);
leader([[72, 179], [139, 179]], GREEN);
txt(48, 194, 'średni', GREEN);
leader([[80, 190], [135, 190]], GREEN);
txt(6, 204, 'Śnieg:', BLUE);
txt(48, 204, 'max', BLUE);
leader([[70, 202], [112, 202]], BLUE);
leader([[128, 202], [133, 202], [161, 171]], BLUE);
txt(48, 215, 'średni', BLUE);
leader([[80, 212], [133, 212], [161, 182]], BLUE);
txt(6, 227, 'Wystąpienie opadu', RED);
leader([[95, 225], [140, 225], [147, 217]], RED);
txt(6, 240, 'konwekcyjnego', RED);
txt(5, 267, 'Ciśnienie');
leader([[52, 264], [130, 264], [135, 263]], '#000');
txt(5, 279, 'zredukowane');
txt(5, 292, 'do poziomu morza');
txt(5, 321, 'Wiatr na 10m:');
txt(10, 337, 'poryw powyżej skali', RED);
leader([[112, 335], [118, 335]], RED);
leader([[128, 335], [135, 320], [139, 315]], RED);
txt(10, 352, 'max porywy wiatru', RED);
leader([[108, 348], [132, 348], [147, 340]], RED);
txt(10, 372, 'prędkość wiatru', NAVY);
leader([[92, 367], [135, 367]], NAVY);
txt(10, 384, 'w środku obszaru', NAVY);
txt(10, 412, 'kierunek wiatru', NAVY);
leader([[86, 410], [140, 410]], NAVY);
txt(6, 432, 'Wierzchołek chmur', DARKRED);
leader([[100, 430], [135, 430], [185, 447]], DARKRED);
txt(6, 447, 'Podstawa chmur*');
txt(6, 458, 'o pokryciu');
txt(11, 471, '> 7.9 okt.');
leader([[58, 468], [135, 468], [190, 456]], '#000');
txt(11, 483, '> 6.5 okt.', '#444');
leader([[58, 480], [143, 480]], '#444');
txt(10, 493, '> 4.5 okt.', '#999');
leader([[57, 490], [133, 490], [143, 500]], '#999');
txt(10, 503, '> 2.5 okt.', '#ddd');
leader([[57, 500], [137, 500]], '#ddd');
svg.append('rect').attr('x', 11).attr('y', 505).attr('width', 44).attr('height', 12).attr('fill', SKY);
txt(12, 514, '> 0.1 okt.', '#fff');
leader([[57, 510], [137, 510]], SKY);
leader([[57, 512.5], [137, 512.5]], SKY);
txt(6, 529, 'Widzialność', ORANGE_VIS);
leader([[67, 527], [128, 527]], ORANGE_VIS);
leader([[132, 525], [140, 520], [172, 463]], ORANGE_VIS);
txt(6, 547, 'Chmury:');
svg.append('rect').attr('x', 10).attr('y', 551).attr('width', 41).attr('height', 12).attr('fill', SKY);
txt(11, 560, 'wysokie', '#fff');
leader([[54, 557], [186, 557]], SKY);
leader([[54, 559.5], [186, 559.5]], SKY);
txt(10, 573, 'średnie', '#999');
leader([[50, 571], [193, 571]], '#999');
txt(10, 584, 'niskie', '#333');
leader([[40, 582], [122, 582]], '#333');
txt(10, 597, 'bardzo niskie', '#111');
leader([[74, 594], [150, 594]], '#111');
txt(6, 608, 'Mgła', '#ffb400');
leader([[30, 605], [218, 605], [219, 590]], '#ffb400');
txt(6, 626, 'Czas uniwersalny (UTC)', '#000', { spacing: '0.35px' });
leader([[139, 623], [147, 623], [157, 608]], '#000');
txt(5, 650, '* powyżej poziomu morza', '#000', { size: 10.5 });
</script>
</body>
</html>
